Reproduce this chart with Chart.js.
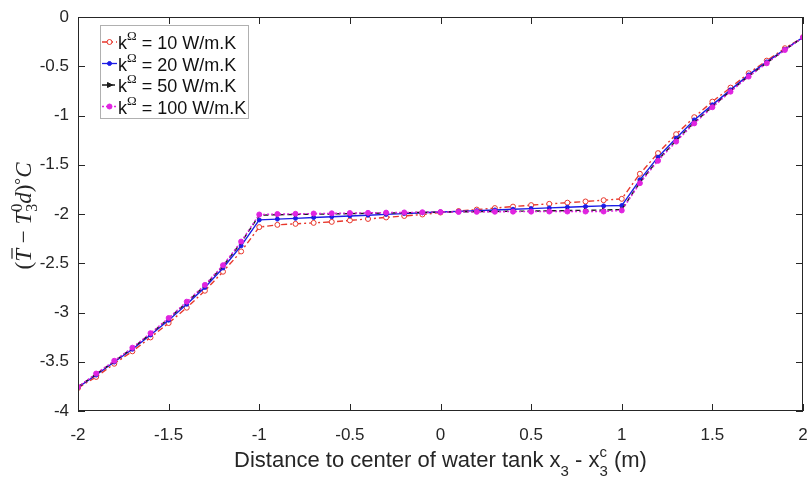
<!DOCTYPE html>
<html>
<head>
<meta charset="utf-8">
<script src="https://cdn.jsdelivr.net/npm/chart.js@4"></script>
<style>
  body { margin: 0; background: #fff; }
</style>
</head>
<body>
<canvas id="tempChart" width="808" height="479"></canvas>
<script>
// distance to tank centre (m)
const xValues = [
  -2.0, -1.9, -1.8, -1.7, -1.6, -1.5, -1.4, -1.3, -1.2, -1.1,
  -1.0, -0.9, -0.8, -0.7, -0.6, -0.5, -0.4, -0.3, -0.2, -0.1,
   0.0,  0.1,  0.2,  0.3,  0.4,  0.5,  0.6,  0.7,  0.8,  0.9,
   1.0,  1.1,  1.2,  1.3,  1.4,  1.5,  1.6,  1.7,  1.8,  1.9, 2.0
];

// temperature difference for each conductivity
const k10 = [
  -3.766, -3.654, -3.52, -3.394, -3.253, -3.107, -2.951, -2.779, -2.586, -2.38,
  -2.133, -2.11, -2.10, -2.09, -2.08, -2.065, -2.05, -2.035, -2.02, -2.005,
  -1.985, -1.97, -1.955, -1.94, -1.925, -1.91, -1.897, -1.885, -1.873, -1.86,
  -1.846, -1.592, -1.382, -1.19, -1.017, -0.859, -0.717, -0.571, -0.443, -0.317, -0.206
];
const k20 = [
  -3.76, -3.635, -3.503, -3.373, -3.228, -3.078, -2.916, -2.745, -2.548, -2.323,
  -2.06, -2.052, -2.044, -2.036, -2.028, -2.02, -2.012, -2.004, -1.996, -1.988,
  -1.98, -1.973, -1.966, -1.959, -1.952, -1.945, -1.938, -1.931, -1.924, -1.918,
  -1.914, -1.653, -1.423, -1.23, -1.045, -0.892, -0.74, -0.588, -0.456, -0.328, -0.206
];
const k50 = [
  -3.757, -3.625, -3.495, -3.362, -3.216, -3.062, -2.897, -2.727, -2.528, -2.29,
  -2.012, -2.008, -2.005, -2.002, -2.0, -1.996, -1.993, -1.99, -1.987, -1.984,
  -1.98, -1.978, -1.976, -1.974, -1.972, -1.97, -1.968, -1.965, -1.962, -1.96,
  -1.955, -1.68, -1.45, -1.255, -1.07, -0.91, -0.752, -0.6, -0.466, -0.333, -0.206
];
const k100 = [
  -3.755, -3.62, -3.49, -3.357, -3.21, -3.056, -2.89, -2.72, -2.52, -2.28,
  -2.005, -2.0, -1.998, -1.995, -1.993, -1.99, -1.988, -1.986, -1.984, -1.982,
  -1.98, -1.979, -1.978, -1.977, -1.976, -1.976, -1.975, -1.975, -1.975, -1.975,
  -1.964, -1.687, -1.46, -1.265, -1.08, -0.916, -0.758, -0.605, -0.47, -0.335, -0.206
];

const xTicks = [-2, -1.5, -1, -0.5, 0, 0.5, 1, 1.5, 2];
const yTicks = [0, -0.5, -1, -1.5, -2, -2.5, -3, -3.5, -4];
const legendValues = ['10', '20', '50', '100'];

const AXIS = '#262626';
const SANS = "'Liberation Sans', Arial, sans-serif";
const SERIF = "'Liberation Serif', 'Times New Roman', serif";

const series = [
  { data: k10,  color: '#e8372c', dash: [6, 3, 2, 3], style: 'circle',   radius: 2.5, fill: '#fff',    order: 3 },
  { data: k20,  color: '#1c1ce6', dash: [],           style: 'circle',   radius: 2.0, fill: '#1c1ce6', order: 2 },
  { data: k50,  color: '#1a1a1a', dash: [5, 3],       style: 'triangle', radius: 2.2, fill: '#1a1a1a', order: 1 },
  { data: k100, color: '#e024e0', dash: [2, 2],       style: 'circle',   radius: 2.5, fill: '#e024e0', order: 0 }
];

function toPoints(ys) {
  return xValues.map((x, i) => ({ x: x, y: ys[i] }));
}

// text made of pieces: plain runs and stacked sub/superscripts
function pieceWidth(ctx, p) {
  ctx.font = p.font;
  if (p.stack) {
    return Math.max(ctx.measureText(p.sub || '').width, ctx.measureText(p.sup || '').width);
  }
  return ctx.measureText(p.text).width;
}
function runsWidth(ctx, runs) {
  return runs.reduce((w, p) => w + pieceWidth(ctx, p), 0);
}
function drawRuns(ctx, runs, x, y) {
  runs.forEach(p => {
    const w = pieceWidth(ctx, p);
    ctx.font = p.font;
    if (p.stack) {
      if (p.sub) ctx.fillText(p.sub, x, y + p.subDy);
      if (p.sup) ctx.fillText(p.sup, x, y + p.supDy);
    } else {
      ctx.fillText(p.text, x, y + (p.dy || 0));
      if (p.bar) {
        ctx.save();
        ctx.lineWidth = 1.2;
        ctx.beginPath();
        ctx.moveTo(x + 3, y - p.bar);
        ctx.lineTo(x + w + 1, y - p.bar);
        ctx.stroke();
        ctx.restore();
      }
    }
    x += w;
  });
}

const xTitle = [
  { text: 'Distance to center of water tank x', font: '22px ' + SANS },
  { stack: true, sub: '3', subDy: 9, font: '15px ' + SANS },
  { text: ' - x', font: '22px ' + SANS },
  { stack: true, sub: '3', subDy: 9, sup: 'c', supDy: -10, font: '15px ' + SANS },
  { text: ' (m)', font: '22px ' + SANS }
];

const yTitle = [
  { text: '(', font: '23px ' + SERIF },
  { text: 'T', font: 'italic 23px ' + SERIF, bar: 19 },
  { text: ' \u2212 ', font: '23px ' + SERIF },
  { text: 'T', font: 'italic 23px ' + SERIF },
  { stack: true, sub: '3', subDy: 6, sup: '0', supDy: -9, font: '16px ' + SERIF },
  { text: 'd', font: 'italic 23px ' + SERIF },
  { text: ')', font: '23px ' + SERIF },
  { text: '\u00b0', font: '17px ' + SERIF, dy: -5 },
  { text: 'C', font: 'italic 23px ' + SERIF }
];

function drawMarker(ctx, s, x, y) {
  ctx.save();
  ctx.fillStyle = s.fill;
  ctx.strokeStyle = s.color;
  ctx.lineWidth = 1;
  ctx.beginPath();
  if (s.style === 'triangle') {
    ctx.moveTo(x + 3, y);
    ctx.lineTo(x - 2, y - 2.5);
    ctx.lineTo(x - 2, y + 2.5);
    ctx.closePath();
  } else {
    ctx.arc(x, y, s.radius, 0, Math.PI * 2);
  }
  ctx.fill();
  ctx.stroke();
  ctx.restore();
}

const decorations = {
  id: 'decorations',
  afterDraw(chart) {
    const ctx = chart.ctx;
    const a = chart.chartArea;
    const xs = chart.scales.x;
    const ys = chart.scales.y;

    ctx.save();
    // box and inward ticks on all sides
    ctx.strokeStyle = AXIS;
    ctx.lineWidth = 1;
    ctx.strokeRect(a.left + 0.5, a.top + 0.5, a.right - a.left - 1, a.bottom - a.top - 1);
    ctx.beginPath();
    xTicks.forEach(v => {
      const px = Math.round(xs.getPixelForValue(v)) + 0.5;
      ctx.moveTo(px, a.bottom); ctx.lineTo(px, a.bottom - 7);
      ctx.moveTo(px, a.top); ctx.lineTo(px, a.top + 7);
    });
    yTicks.forEach(v => {
      const py = Math.round(ys.getPixelForValue(v)) + 0.5;
      ctx.moveTo(a.left, py); ctx.lineTo(a.left + 7, py);
      ctx.moveTo(a.right, py); ctx.lineTo(a.right - 7, py);
    });
    ctx.stroke();

    // legend
    const lx = 100, ly = 25, lw = 148, lh = 93;
    ctx.fillStyle = '#fff';
    ctx.fillRect(lx, ly, lw, lh);
    ctx.strokeStyle = '#b0b0b0';
    ctx.strokeRect(lx + 0.5, ly + 0.5, lw, lh);
    series.forEach((s, i) => {
      const cy = 42 + i * 21.5;
      ctx.strokeStyle = s.color;
      ctx.lineWidth = 1.3;
      ctx.setLineDash(s.dash);
      ctx.beginPath();
      ctx.moveTo(102, cy); ctx.lineTo(117, cy);
      ctx.stroke();
      ctx.setLineDash([]);
      drawMarker(ctx, s, 109.5, cy);
      ctx.fillStyle = '#111';
      ctx.textBaseline = 'alphabetic';
      drawRuns(ctx, [
        { text: 'k', font: '18px ' + SANS },
        { text: '\u03a9', font: '13px ' + SERIF, dy: -9 },
        { text: ' = ' + legendValues[i] + ' W/m.K', font: '18px ' + SANS }
      ], 118, cy + 7);
    });

    // axis titles
    ctx.fillStyle = '#262626';
    ctx.strokeStyle = '#262626';
    ctx.textBaseline = 'alphabetic';
    const xw = runsWidth(ctx, xTitle);
    drawRuns(ctx, xTitle, (a.left + a.right) / 2 - xw / 2, 467);

    ctx.translate(23, 216);
    ctx.rotate(-Math.PI / 2);
    const yw = runsWidth(ctx, yTitle);
    drawRuns(ctx, yTitle, -yw / 2, 8);
    ctx.restore();
  }
};

new Chart(document.getElementById('tempChart'), {
  type: 'line',
  data: {
    datasets: series.map((s, i) => ({
      label: 'k = ' + legendValues[i] + ' W/m.K',
      data: toPoints(s.data),
      borderColor: s.color,
      backgroundColor: s.fill,
      borderWidth: 1.4,
      borderDash: s.dash,
      pointStyle: s.style,
      pointRotation: s.style === 'triangle' ? 90 : 0,
      pointRadius: s.radius,
      pointBorderWidth: 1,
      pointBorderColor: s.color,
      pointBackgroundColor: s.fill,
      tension: 0,
      fill: false,
      order: s.order
    }))
  },
  options: {
    responsive: false,
    animation: false,
    devicePixelRatio: 1,
    layout: { padding: { top: 17, right: 1, left: 0, bottom: 0 } },
    plugins: {
      legend: { display: false },
      tooltip: { enabled: false },
      title: { display: false }
    },
    scales: {
      x: {
        type: 'linear',
        min: -2,
        max: 2,
        afterBuildTicks: (scale) => { scale.ticks = xTicks.map(v => ({ value: v })); },
        afterFit: (scale) => {
          scale.height = 68;
          scale.paddingLeft = 0;
          scale.paddingRight = 0;
        },
        grid: { display: false, drawTicks: false },
        border: { display: false },
        ticks: {
          color: AXIS,
          font: { family: SANS, size: 17 },
          padding: 14,
          maxRotation: 0,
          callback: (v) => String(v)
        }
      },
      y: {
        type: 'linear',
        min: -4,
        max: 0,
        afterBuildTicks: (scale) => { scale.ticks = yTicks.map(v => ({ value: v })); },
        afterFit: (scale) => {
          scale.width = 78;
          scale.paddingTop = 0;
          scale.paddingBottom = 0;
        },
        grid: { display: false, drawTicks: false },
        border: { display: false },
        ticks: {
          color: AXIS,
          font: { family: SANS, size: 17 },
          padding: 9,
          callback: (v) => String(v)
        }
      }
    }
  },
  plugins: [decorations]
});
</script>
</body>
</html>
